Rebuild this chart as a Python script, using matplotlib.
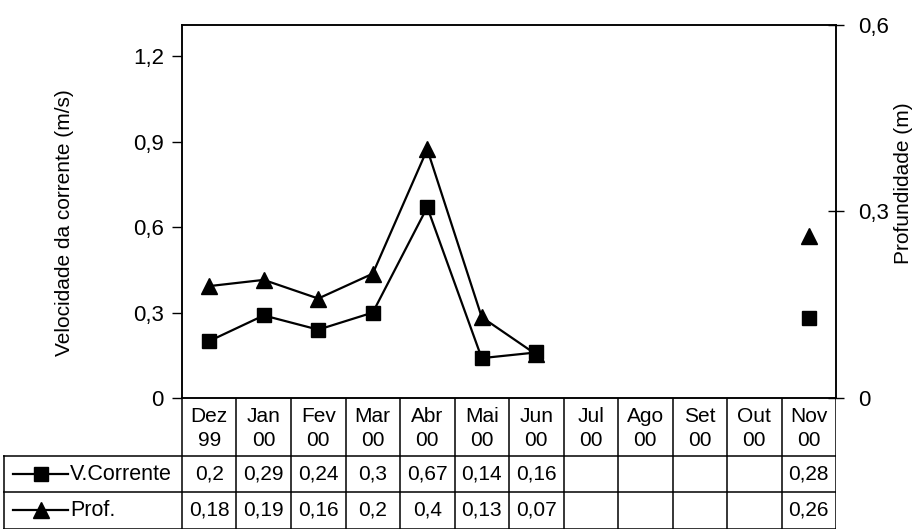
import numpy as np
import matplotlib
matplotlib.use("Agg")
import matplotlib.pyplot as plt

plt.rcParams['font.family'] = ['Liberation Sans', 'DejaVu Sans']

# dados
meses = ["Dez\n99", "Jan\n00", "Fev\n00", "Mar\n00", "Abr\n00", "Mai\n00",
         "Jun\n00", "Jul\n00", "Ago\n00", "Set\n00", "Out\n00", "Nov\n00"]
v_corrente = [0.2, 0.29, 0.24, 0.3, 0.67, 0.14, 0.16, None, None, None, None, 0.28]
prof = [0.18, 0.19, 0.16, 0.2, 0.4, 0.13, 0.07, None, None, None, None, 0.26]

ticks_vel = [0, 0.3, 0.6, 0.9, 1.2]
ticks_prof = [0, 0.3, 0.6]


def virgula(v):
    if v is None:
        return ""
    return ("%g" % v).replace(".", ",")


W, H = 914, 530
fig = plt.figure(figsize=(W / 100, H / 100), dpi=100)

x0, x1 = 182, 836      # area do grafico em px
y_top, y_axis = 25, 398
ax = fig.add_axes([x0 / W, 1 - y_axis / H, (x1 - x0) / W, (y_axis - y_top) / H])
ax2 = ax.twinx()

x = np.arange(len(meses))
vc = np.array([np.nan if v is None else v for v in v_corrente])
pf = np.array([np.nan if v is None else v for v in prof])

ax.plot(x, vc, color="black", lw=1.6, marker="s", ms=10, zorder=3)
ax2.plot(x, pf, color="black", lw=1.6, marker="^", ms=11, zorder=3)

ax.set_xlim(-0.5, len(meses) - 0.5)
ax.set_ylim(0, 1.31)
ax2.set_ylim(0, 0.6)
ax.set_yticks(ticks_vel)
ax.set_yticklabels([virgula(t) for t in ticks_vel], fontsize=16)
ax2.set_yticks(ticks_prof)
ax2.set_yticklabels([virgula(t) for t in ticks_prof], fontsize=16)
ax.set_xticks([])
ax.tick_params(axis="y", direction="out", length=7, width=1, pad=6)
ax2.tick_params(axis="y", direction="inout", length=12, width=1, pad=10)

for a in (ax, ax2):
    for s in a.spines.values():
        s.set_linewidth(1.1)

ax.set_ylabel("Velocidade da corrente (m/s)", fontsize=15)
ax.yaxis.set_label_coords(-0.165, 0.47)
ax2.set_ylabel("Profundidade (m)", fontsize=15)
ax2.yaxis.set_label_coords(0.089 + 1, 0.575)

# tabela de dados
t_bot = 529
tax = fig.add_axes([3 / W, 1 - t_bot / H, (x1 - 3) / W, (t_bot - y_axis) / H])
col = (x1 - x0) / len(meses)
xl = -0.5 - (x0 - 3) / col
tax.set_xlim(xl, len(meses) - 0.5)
tax.set_ylim(t_bot - y_axis, 0)
tax.axis("off")

h_head, h_row = 58, 36
y_r1 = h_head
y_r2 = h_head + h_row
y_end = t_bot - y_axis
lw = 1.1
for i in range(len(meses) + 1):
    tax.plot([i - 0.5, i - 0.5], [0, y_end], color="black", lw=lw)
tax.plot([xl, len(meses) - 0.5], [y_r1, y_r1], color="black", lw=lw)
tax.plot([xl, len(meses) - 0.5], [y_r2, y_r2], color="black", lw=lw)
tax.plot([xl, len(meses) - 0.5], [y_end - 0.5, y_end - 0.5], color="black", lw=lw)
tax.plot([xl + 0.01, xl + 0.01], [y_r1, y_end], color="black", lw=lw)

for i, m in enumerate(meses):
    a, b = m.split("\n")
    tax.text(i, 18, a, ha="center", va="center", fontsize=15)
    tax.text(i, 42, b, ha="center", va="center", fontsize=15)
    tax.text(i, y_r1 + h_row / 2, virgula(v_corrente[i]), ha="center", va="center", fontsize=15)
    tax.text(i, y_r2 + h_row / 2, virgula(prof[i]), ha="center", va="center", fontsize=15)

px = lambda p: (p - x0) / col - 0.5
for yy, mk, nome in [(y_r1 + h_row / 2, "s", "V.Corrente"), (y_r2 + h_row / 2, "^", "Prof.")]:
    tax.plot([px(13), px(68)], [yy, yy], color="black", lw=1.6)
    tax.plot([px(41)], [yy], marker=mk, color="black", ms=10 if mk == "s" else 11)
    tax.text(px(70), yy, nome, ha="left", va="center", fontsize=15.5)

fig.savefig("out.png", dpi=100)
